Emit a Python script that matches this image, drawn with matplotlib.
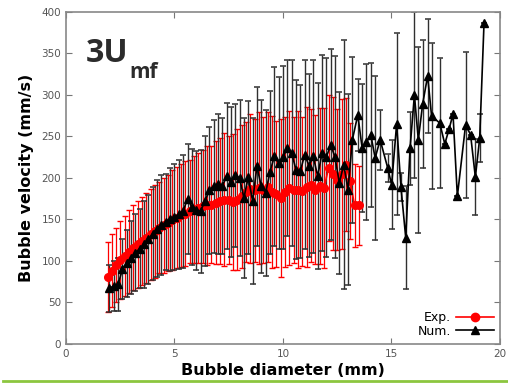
import matplotlib.pyplot as plt
from matplotlib.lines import Line2D

# experimental bubble velocities (mm/s) against bubble diameter (mm)
exp_d = [1.95, 2.1, 2.3, 2.5, 2.7, 2.9, 3.1, 3.3, 3.5, 3.7, 3.9, 4.1, 4.3, 4.5, 4.7,
         4.9, 5.1, 5.3, 5.5, 5.7, 5.9, 6.1, 6.3, 6.5, 6.7, 6.9, 7.1, 7.3, 7.5, 7.7,
         7.9, 8.1, 8.3, 8.5, 8.7, 8.9, 9.1, 9.3, 9.5, 9.7, 9.9, 10.1, 10.3, 10.5, 10.7,
         10.9, 11.1, 11.3, 11.5, 11.7, 11.9, 12.1, 12.3, 12.5, 12.7, 12.9, 13.1, 13.3, 13.5]
exp_v = [81, 88, 95, 101, 106, 111, 116, 120, 124, 128, 132, 136, 140, 143, 146,
         149, 152, 155, 157, 160, 162, 164, 166, 167, 168, 170, 172, 174, 173, 171,
         174, 178, 183, 187, 185, 188, 186, 189, 183, 181, 176, 183, 188, 185, 186,
         184, 189, 191, 186, 190, 188, 212, 205, 198, 205, 216, 196, 167, 167]
exp_err = [42, 44, 45, 47, 48, 50, 51, 52, 53, 54, 55, 56, 55, 57, 58,
           60, 61, 62, 63, 62, 64, 66, 68, 72, 70, 74, 76, 80, 77, 82,
           85, 86, 84, 90, 86, 92, 88, 90, 92, 88, 95, 90, 93, 88, 95,
           90, 96, 92, 90, 94, 96, 88, 92, 85, 90, 80, 70, 50, 48]

# numerical results
num_d = [2.0, 2.2, 2.4, 2.6, 2.8, 3.0, 3.2, 3.4, 3.6, 3.8, 4.0, 4.2, 4.4, 4.6, 4.8,
         5.0, 5.2, 5.4, 5.6, 5.8, 6.0, 6.2, 6.4, 6.6, 6.8, 7.0, 7.2, 7.4, 7.6, 7.8,
         8.0, 8.2, 8.4, 8.6, 8.8, 9.0, 9.2, 9.4, 9.6, 9.8, 10.0, 10.2, 10.4, 10.6, 10.8,
         11.0, 11.2, 11.4, 11.6, 11.8, 12.0, 12.2, 12.4, 12.6, 12.8, 13.0, 13.2,
         13.45, 13.65, 13.85, 14.05, 14.25, 14.48, 14.83, 15.01, 15.24, 15.44, 15.66,
         15.86, 16.06, 16.24, 16.44, 16.67, 16.85, 17.23, 17.46, 17.66, 17.84, 18.04,
         18.42, 18.65, 18.87, 19.07, 19.27]
num_v = [67, 70, 72, 90, 97, 104, 110, 115, 120, 126, 133, 139, 143, 147, 150,
         153, 156, 160, 175, 165, 161, 160, 172, 185, 190, 193, 190, 202, 195, 203,
         200, 176, 201, 172, 214, 190, 182, 207, 226, 218, 225, 236, 230, 210, 208,
         228, 215, 226, 202, 230, 225, 240, 225, 194, 216, 186, 246,
         276, 236, 243, 252, 224, 246, 212, 192, 265, 189, 128,
         236, 300, 246, 289, 323, 275, 266, 241, 259, 277, 178,
         264, 252, 201, 248, 387]
num_err = [28, 30, 32, 36, 40, 44, 46, 48, 52, 54, 56, 58, 60, 58, 62,
           64, 66, 68, 66, 70, 72, 74, 78, 76, 80, 84, 82, 88, 90, 86,
           94, 96, 92, 100, 96, 104, 100, 98, 108, 104, 110, 106, 112, 108, 104,
           114, 110, 116, 112, 118, 120, 115, 122, 110, 150, 115, 100,
           43, 77, 94, 87, 99, 36, 17, 54, 110, 17, 62,
           44, 100, 112, 77, 69, 88, 78, 0, 0, 0, 0,
           88, 0, 46, 29, 0]

fig = plt.figure(figsize=(5.08, 3.85), dpi=100)
ax = fig.add_axes([0.13, 0.1065, 0.854, 0.8625])

ax.errorbar(exp_d, exp_v, yerr=exp_err, fmt="-o", color="red", ecolor="red",
            lw=1.2, elinewidth=0.9, capsize=2.5, capthick=1.0, ms=5.5)
ax.errorbar(num_d, num_v, yerr=num_err, fmt="-^", color="black", ecolor="#303030",
            lw=1.2, elinewidth=1.0, capsize=2.5, capthick=1.1, ms=6)

ax.set_xlim(0, 20)
ax.set_ylim(0, 400)
ax.set_xticks([0, 5, 10, 15, 20])
ax.set_yticks(range(0, 401, 50))
ax.tick_params(direction="in", top=True, right=True, length=4, color="#777777",
               labelcolor="#555555", labelsize=7.5)
for s in ax.spines.values():
    s.set_color("#888888")
    s.set_linewidth(1.2)

ax.set_xlabel("Bubble diameter (mm)", fontsize=11.5, fontweight="bold", labelpad=3)
ax.set_ylabel("Bubble velocity (mm/s)", fontsize=11.5, fontweight="bold", labelpad=5)

# legend shows only line + marker, text on the left
handles = [Line2D([], [], color="red", marker="o", lw=1.2, ms=6),
           Line2D([], [], color="black", marker="^", lw=1.2, ms=6)]
ax.legend(handles, ["Exp.", "Num."], loc="lower right", frameon=False,
          markerfirst=False, fontsize=9, handlelength=3, labelspacing=0.05,
          borderaxespad=0.1, handletextpad=0.4)

# case label
t = ax.text(0.045, 0.85, "3U", transform=ax.transAxes, fontsize=23,
            fontweight="bold", color="#2b2b2b", family="Open Sans")
ax.annotate("mf", xy=(1, 0), xycoords=t, xytext=(0.5, -6), textcoords="offset points",
            fontsize=15, fontweight="bold", color="#2b2b2b", family="Open Sans")

# green rule under the plot
fig.add_artist(Line2D([0.005, 1.0], [0.01, 0.01], transform=fig.transFigure,
                      color="#8cc63f", lw=2))

fig.savefig("out.png", dpi=100)
